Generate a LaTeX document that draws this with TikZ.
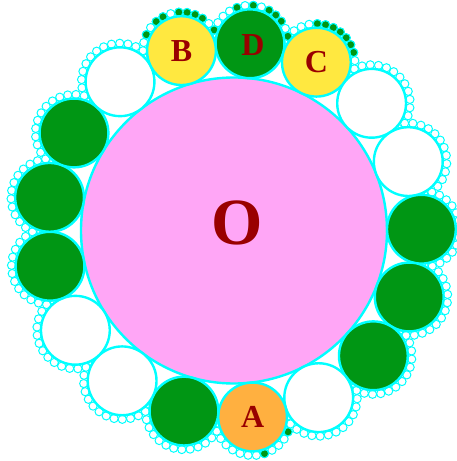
\documentclass[tikz,border=0pt]{standalone}
\usepackage{fontspec}
\setmainfont{Liberation Serif}
\usetikzlibrary{calc}
\definecolor{ringcyan}{RGB}{0,255,255}
\definecolor{leafgreen}{RGB}{0,150,20}
\definecolor{bigpink}{RGB}{255,166,246}
\definecolor{sunyellow}{RGB}{255,232,64}
\definecolor{amber}{RGB}{255,176,64}
\definecolor{letterred}{RGB}{153,0,0}
\begin{document}
\begin{tikzpicture}[x=1pt,y=1pt,
  ring/.style = {draw=ringcyan, line width=2.4pt},
  bead/.style = {draw=ringcyan, line width=1pt, fill=white},
  letter/.style = {text=letterred, font=\bfseries\fontsize{32}{32}\selectfont, inner sep=0pt}]
\useasboundingbox (0,0) rectangle (457,461);
\coordinate (O) at (234,230.5);
\foreach \k in {0,...,16} \coordinate (r\k) at ($(O)+({85.1-21.176*\k}:187.4)$);
% small beads round the outside of every ring circle
\foreach \k in {0,...,16} {
  \foreach \j in {0,...,11} \draw[bead] ($(r\k)+({85.1-21.176*\k+73.9-12.32*\j}:38.5)$) circle (4.1);
  \draw[bead, line width=0.6pt] ($(O)+({85.1-21.176*\k-10.588}:195.6)$) circle (1.8);
}
\foreach \k/\j in {16/2,16/4,16/5,16/7,16/8,16/9,16/10,0/0,0/4,0/6,0/8,0/9,0/10,1/0,1/4,1/5,1/6,1/7,1/8,1/9,1/10,8/1,8/5}
  \draw[bead, fill=leafgreen] ($(r\k)+({85.1-21.176*\k+73.9-12.32*\j}:38.5)$) circle (4.1);
% big circle and the ring
\draw[ring, fill=bigpink] (O) circle (153);
\foreach \k/\c in {0/leafgreen,1/sunyellow,2/white,3/white,4/leafgreen,5/leafgreen,6/leafgreen,7/white,8/amber,9/leafgreen,10/white,11/white,12/leafgreen,13/leafgreen,14/leafgreen,15/white,16/sunyellow}
  \draw[ring, fill=\c] (r\k) circle (34.4);
\node[letter, font=\bfseries\fontsize{66}{66}\selectfont] (labO) at ($(O)+(3,8)$) {O};
\node[letter] (labA) at (r8) {A}; \node[letter] (labB) at (r16) {B};
\node[letter] (labC) at (r1) {C}; \node[letter] (labD) at ($(r0)+(3,-1)$) {D};
\end{tikzpicture}
\end{document}
